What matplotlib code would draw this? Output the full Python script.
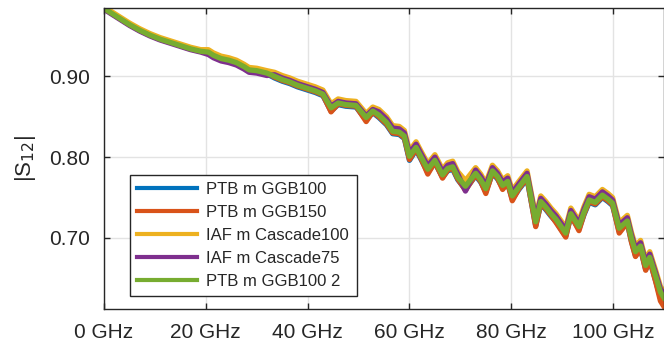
import numpy as np
import matplotlib
matplotlib.use("Agg")
from matplotlib import pyplot as plt

plt.rcParams['font.family'] = ['Liberation Sans', 'DejaVu Sans']

# frequency in GHz
freq = [0.5, 1.5, 3, 5, 7, 9, 11, 13, 15, 17, 19, 20.5, 21.5, 23, 24.5, 26, 27.5, 28.5, 30, 32,
        33.5, 35, 36.5, 38, 40, 41.5, 43, 44.6, 46, 47.5, 49.5, 51.5, 52.8, 54, 55.5, 56.7, 58, 59,
        60, 61.3, 62.3, 63.6, 65, 66.5, 67.5, 68.5, 69.5, 71, 73, 74, 75, 76.3, 77.3, 78.3, 79.3,
        80.2, 81.5, 83.1, 84.8, 85.8, 86.8, 87.8, 88.8, 90.7, 91.7, 93.3, 94.3, 95.3, 96.5, 97.9,
        99, 99.9, 101.2, 102.8, 103.6, 104.4, 105.4, 106.4, 107.2, 108.4, 109.3, 110]

ptb_ggb100 = [0.982, 0.978, 0.972, 0.964, 0.957, 0.951, 0.946, 0.942, 0.938, 0.934, 0.931,
              0.929, 0.925, 0.921, 0.919, 0.916, 0.911, 0.907, 0.906, 0.903,
              0.898, 0.894, 0.891, 0.887, 0.883, 0.880, 0.876, 0.857, 0.865, 0.863, 0.862, 0.846, 0.855,
              0.849, 0.840, 0.829, 0.828, 0.823, 0.796, 0.809, 0.797, 0.781, 0.793, 0.775, 0.783, 0.785,
              0.772, 0.760, 0.777, 0.769, 0.757, 0.780, 0.773, 0.762, 0.767, 0.748, 0.760, 0.773, 0.715,
              0.742, 0.735, 0.727, 0.720, 0.702, 0.727, 0.711, 0.729, 0.744, 0.741, 0.750, 0.745, 0.740,
              0.708, 0.718, 0.696, 0.678, 0.686, 0.661, 0.672, 0.646, 0.626, 0.618]

ptb_ggb150 = [0.982, 0.978, 0.972, 0.964, 0.957, 0.951, 0.946, 0.942, 0.938, 0.934, 0.931,
              0.930, 0.926, 0.922, 0.920, 0.917, 0.912, 0.908, 0.907, 0.904,
              0.899, 0.895, 0.892, 0.888, 0.884, 0.881, 0.877, 0.856, 0.866, 0.864, 0.863, 0.844, 0.856,
              0.850, 0.841, 0.830, 0.829, 0.824, 0.797, 0.810, 0.798, 0.779, 0.794, 0.774, 0.784, 0.786,
              0.773, 0.759, 0.778, 0.770, 0.755, 0.781, 0.774, 0.760, 0.768, 0.746, 0.761, 0.774, 0.714,
              0.743, 0.736, 0.728, 0.719, 0.701, 0.728, 0.709, 0.730, 0.745, 0.742, 0.751, 0.746, 0.741,
              0.706, 0.719, 0.695, 0.677, 0.687, 0.660, 0.673, 0.645, 0.622, 0.615]

iaf_cascade100 = [0.983, 0.980, 0.974, 0.966, 0.959, 0.953, 0.948, 0.944, 0.940, 0.936, 0.933,
                  0.933, 0.929, 0.925, 0.923, 0.920, 0.915, 0.911, 0.910, 0.907,
                  0.905, 0.901, 0.898, 0.894, 0.890, 0.887, 0.883, 0.866, 0.872, 0.870, 0.869, 0.854, 0.862,
                  0.859, 0.850, 0.839, 0.838, 0.833, 0.808, 0.819, 0.807, 0.792, 0.803, 0.785, 0.793, 0.795,
                  0.782, 0.771, 0.787, 0.779, 0.768, 0.790, 0.783, 0.772, 0.777, 0.759, 0.770, 0.783, 0.727,
                  0.752, 0.745, 0.737, 0.730, 0.713, 0.737, 0.721, 0.739, 0.754, 0.751, 0.760, 0.755, 0.750,
                  0.719, 0.728, 0.707, 0.690, 0.697, 0.673, 0.683, 0.659, 0.640, 0.633]

iaf_cascade75 = [0.981, 0.977, 0.971, 0.963, 0.956, 0.950, 0.945, 0.941, 0.937, 0.933, 0.930,
                 0.927, 0.923, 0.919, 0.917, 0.914, 0.909, 0.905, 0.904, 0.901,
                 0.902, 0.898, 0.895, 0.891, 0.887, 0.884, 0.880, 0.863, 0.869, 0.867, 0.866, 0.851, 0.859,
                 0.856, 0.847, 0.836, 0.835, 0.830, 0.805, 0.816, 0.804, 0.789, 0.800, 0.782, 0.790, 0.792,
                 0.779, 0.758, 0.784, 0.776, 0.765, 0.787, 0.780, 0.769, 0.774, 0.756, 0.767, 0.780, 0.724,
                 0.749, 0.742, 0.734, 0.727, 0.710, 0.734, 0.718, 0.736, 0.751, 0.748, 0.757, 0.752, 0.747,
                 0.716, 0.725, 0.704, 0.687, 0.694, 0.670, 0.680, 0.656, 0.637, 0.630]

ptb_ggb100_2 = [0.982, 0.978, 0.972, 0.964, 0.957, 0.951, 0.946, 0.942, 0.938, 0.934, 0.931,
                0.930, 0.926, 0.922, 0.920, 0.917, 0.912, 0.908, 0.907, 0.904,
                0.900, 0.896, 0.893, 0.889, 0.885, 0.882, 0.878, 0.861, 0.867, 0.865, 0.864, 0.849, 0.857,
                0.852, 0.843, 0.832, 0.831, 0.826, 0.801, 0.812, 0.800, 0.785, 0.796, 0.778, 0.786, 0.788,
                0.775, 0.764, 0.780, 0.772, 0.761, 0.783, 0.776, 0.765, 0.770, 0.752, 0.763, 0.776, 0.720,
                0.745, 0.738, 0.730, 0.723, 0.706, 0.730, 0.714, 0.732, 0.747, 0.744, 0.753, 0.748, 0.743,
                0.712, 0.721, 0.700, 0.683, 0.690, 0.666, 0.676, 0.652, 0.633, 0.626]

names = ['PTB m GGB100', 'PTB m GGB150', 'IAF m Cascade100', 'IAF m Cascade75', 'PTB m GGB100 2']
series = [ptb_ggb100, ptb_ggb150, iaf_cascade100, iaf_cascade75, ptb_ggb100_2]
colors = ['#0072BD', '#D95319', '#EDB120', '#7E2F8E', '#77AC30']

xticks = [0, 20, 40, 60, 80, 100]
xlabels = ['0 GHz', '20 GHz', '40 GHz', '60 GHz', '80 GHz', '100 GHz']
yticks = [0.70, 0.80, 0.90]
ylabels = ['0.70', '0.80', '0.90']

fig = plt.figure(figsize=(6.64, 3.52), dpi=100)
ax = fig.add_axes([0.1566, 0.122, 0.8434, 0.854])

for vals, name, col in zip(series, names, colors):
    ax.plot(freq, vals, color=col, lw=3.8, label=name, solid_joinstyle='round')

ax.set_xlim(0, 110)
ax.set_ylim(0.612, 0.984)
ax.set_xticks(xticks)
ax.set_xticklabels(xlabels)
ax.set_yticks(yticks)
ax.set_yticklabels(ylabels)
ax.grid(True, color='#e3e3e3', lw=1.0)
ax.set_axisbelow(True)
ax.tick_params(direction='in', length=4, width=1, colors='#262626', labelsize=15,
               top=True, right=True, pad=10)
for s in ax.spines.values():
    s.set_color('#262626')
    s.set_linewidth(1.0)

ax.set_ylabel('|S$_{12}$|', fontsize=16, color='#262626', labelpad=8)

leg = ax.legend(loc='lower left', bbox_to_anchor=(0.046, 0.043), fontsize=12,
                frameon=True, fancybox=False, edgecolor='#262626', framealpha=1,
                handlelength=3.6, handletextpad=0.55, borderpad=0.45, labelspacing=0.47,
                borderaxespad=0)
leg.get_frame().set_linewidth(1.0)
for line in leg.get_lines():
    line.set_linewidth(3.0)
for t in leg.get_texts():
    t.set_color('#262626')

plt.savefig('out.png', dpi=100)
